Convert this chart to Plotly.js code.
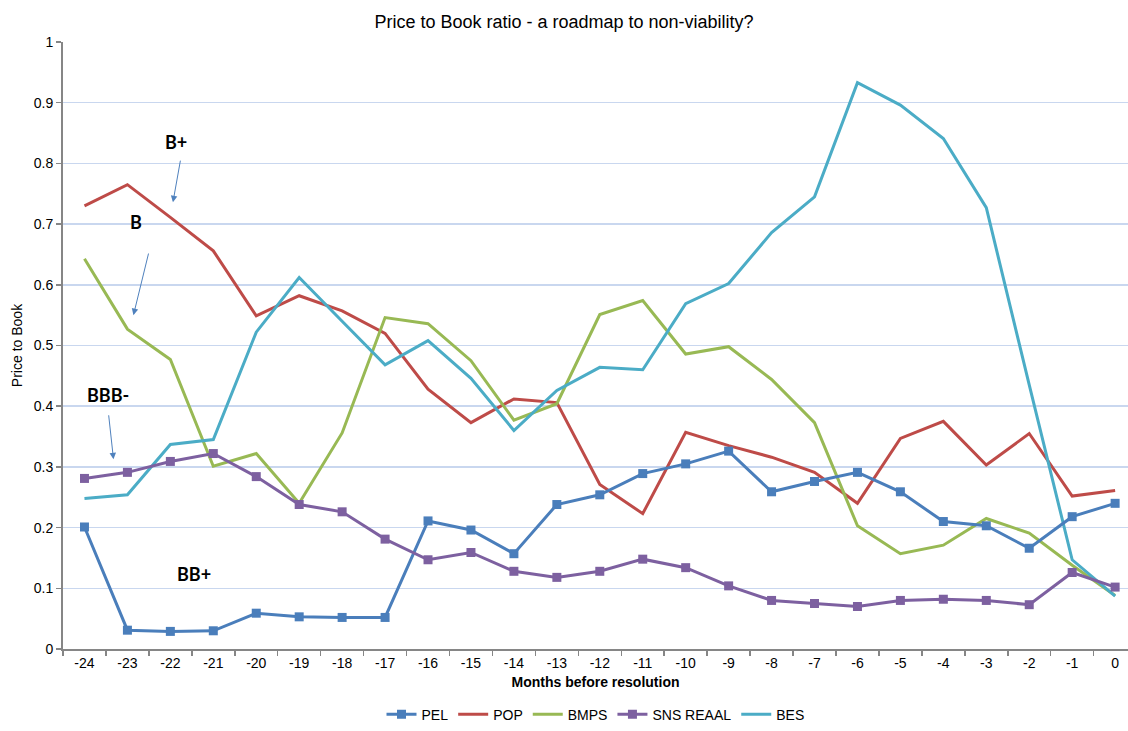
<!DOCTYPE html>
<html><head><meta charset="utf-8">
<script src="https://cdn.plot.ly/plotly-3.0.1.min.js"></script>
<style>html,body{margin:0;padding:0;background:#fff}#chart{width:1128px;height:731px}</style>
</head><body><div id="chart"></div>
<script>
const months = ["-24","-23","-22","-21","-20","-19","-18","-17","-16","-15","-14","-13","-12","-11","-10","-9","-8","-7","-6","-5","-4","-3","-2","-1","0"];
const pel  = [0.201,0.031,0.029,0.030,0.059,0.053,0.052,0.052,0.211,0.196,0.157,0.238,0.254,0.289,0.305,0.326,0.259,0.276,0.291,0.259,0.210,0.203,0.166,0.218,0.240];
const pop  = [0.730,0.765,0.711,0.656,0.549,0.582,0.557,0.520,0.428,0.373,0.412,0.406,0.271,0.223,0.357,0.335,0.316,0.291,0.240,0.347,0.375,0.303,0.355,0.252,0.261];
const bmps = [0.643,0.527,0.477,0.301,0.322,0.240,0.356,0.546,0.536,0.475,0.377,0.404,0.551,0.574,0.486,0.498,0.444,0.373,0.203,0.157,0.171,0.215,0.191,0.138,0.088];
const sns  = [0.281,0.291,0.309,0.322,0.284,0.238,0.226,0.181,0.147,0.159,0.128,0.118,0.128,0.148,0.134,0.104,0.080,0.075,0.070,0.080,0.082,0.080,0.073,0.126,0.102];
const bes  = [0.248,0.254,0.337,0.345,0.522,0.612,0.540,0.468,0.508,0.446,0.360,0.426,0.464,0.460,0.569,0.602,0.686,0.745,0.933,0.896,0.841,0.727,0.435,0.147,0.087];
const seriesNames = ["PEL","POP","BMPS","SNS REAAL","BES"];
const yTicks = [0,0.1,0.2,0.3,0.4,0.5,0.6,0.7,0.8,0.9,1];
const yTickText = ["0","0.1","0.2","0.3","0.4","0.5","0.6","0.7","0.8","0.9","1"];
const ratingLabels = ["B+","B","BBB-","BB+"];

const colors = ["#4A7EBB","#BE4B48","#98B954","#7D60A0","#4BACC6"];
const values = [pel, pop, bmps, sns, bes];
const withMarkers = [true,false,false,true,false];

const traces = values.map((v,i)=>({
  x: months, y: v, name: seriesNames[i], type:'scatter',
  mode: withMarkers[i] ? 'lines+markers' : 'lines',
  line: {color: colors[i], width: 3},
  marker: {symbol:'square', size: 9, color: colors[i]},
  legendrank: i
}));
const order = [1,2,4,0,3];
const drawn = order.map(i=>traces[i]);

const lblFont = {family:'Lato, "Open Sans", sans-serif', size:18, color:'#000', weight:'bold'};
const arrowColor = '#4F81BD';
const annotations = [
  {x:2.14, y:0.836, text:'<b>'+ratingLabels[0]+'</b>', showarrow:false, font:lblFont, xref:'x', yref:'y'},
  {x:1.19, y:0.703, text:'<b>'+ratingLabels[1]+'</b>', showarrow:false, font:lblFont, xref:'x', yref:'y'},
  {x:0.54, y:0.419, text:'<b>'+ratingLabels[2]+'</b>', showarrow:false, font:lblFont, xref:'x', yref:'y'},
  {x:2.54, y:0.123, text:'<b>'+ratingLabels[3]+'</b>', showarrow:false, font:lblFont, xref:'x', yref:'y'},
  {x:2.06, y:0.736, ax:2.24, ay:0.807, axref:'x', ayref:'y', xref:'x', yref:'y', text:'', showarrow:true, arrowhead:2, arrowsize:1.3, arrowwidth:1, arrowcolor:arrowColor, standoff:0, startstandoff:0},
  {x:1.14, y:0.550, ax:1.50, ay:0.654, axref:'x', ayref:'y', xref:'x', yref:'y', text:'', showarrow:true, arrowhead:2, arrowsize:1.3, arrowwidth:1, arrowcolor:arrowColor, standoff:0, startstandoff:0},
  {x:0.676, y:0.3125, ax:0.56, ay:0.3875, axref:'x', ayref:'y', xref:'x', yref:'y', text:'', showarrow:true, arrowhead:2, arrowsize:1.3, arrowwidth:1, arrowcolor:arrowColor, standoff:0, startstandoff:0}
];

const layout = {
  width:1128, height:731,
  margin:{l:63, r:0, t:42, b:80, pad:0},
  paper_bgcolor:'#fff', plot_bgcolor:'#fff',
  font:{family:'"Liberation Sans", Arial, sans-serif', size:14, color:'#000'},
  title:{text:'Price to Book ratio - a roadmap to non-viability?', font:{size:18, color:'#000'}, x:0.5, xref:'container', y:0.97, yanchor:'middle'},
  showlegend:true,
  legend:{orientation:'h', x:0.5, xanchor:'center', y:-0.108, yanchor:'middle', font:{size:14}, traceorder:'normal', itemwidth:30},
  xaxis:{type:'category', range:[-0.5, 24.3], tickson:'boundaries', ticks:'outside', ticklen:5, tickwidth:1.5, tickcolor:'#868686',
         showline:true, linecolor:'#868686', linewidth:2, showgrid:false, zeroline:false, fixedrange:true,
         tickfont:{size:14}, title:{text:'<b>Months before resolution</b>', font:{size:14}, standoff:7}},
  yaxis:{range:[0,1], tickvals:yTicks, ticktext:yTickText, ticks:'outside', ticklen:5, tickwidth:1.5, tickcolor:'#868686',
         showline:true, linecolor:'#868686', linewidth:2, showgrid:true, gridcolor:'#C9D7EF', gridwidth:1.5, zeroline:false,
         tickfont:{size:14}, title:{text:'Price to Book', font:{family:'"Liberation Sans Narrow", "Liberation Sans", Arial, sans-serif', size:14}, standoff:8}},
  annotations: annotations
};
Plotly.newPlot('chart', drawn, layout, {displayModeBar:false, staticPlot:true});
</script>
</body></html>
